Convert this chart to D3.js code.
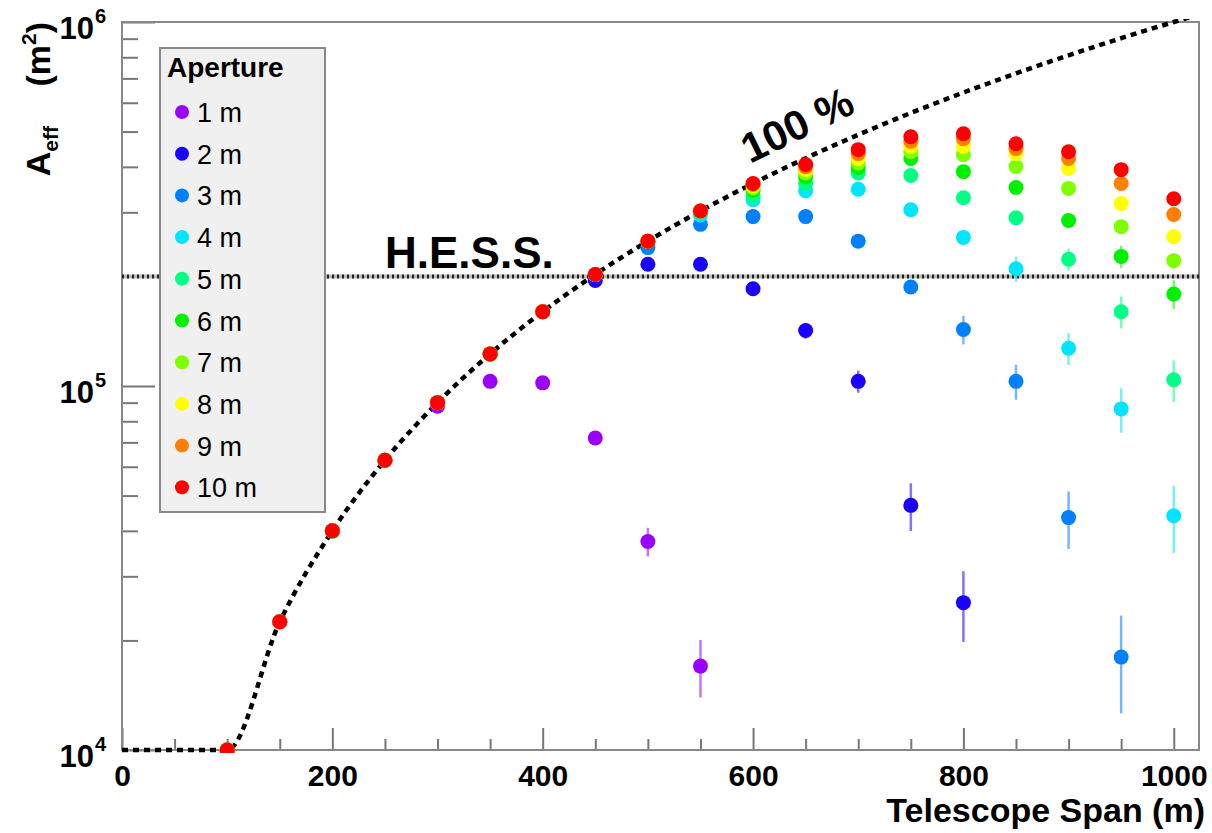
<!DOCTYPE html>
<html>
<head>
<meta charset="utf-8">
<script src="https://cdn.jsdelivr.net/npm/d3@7"></script>
<style>
  body { margin: 0; background: #fff; }
  text { font-family: "Liberation Sans", Arial, sans-serif; }
</style>
</head>
<body>
<div id="chart"></div>
<script>
// telescope span (m) for every point column
const spans = [100, 150, 200, 250, 300, 350, 400, 450, 500, 550, 600, 650, 700, 750, 800, 850, 900, 950, 1000];

const apertures = ['1 m', '2 m', '3 m', '4 m', '5 m', '6 m', '7 m', '8 m', '9 m', '10 m'];
const colors = ['#9900ff', '#1a00ff', '#0080ff', '#00e5ff', '#00ff85', '#00f000', '#80ff00', '#ffff00', '#ff8000', '#ff0000'];

// effective area (m^2) per aperture, null = no point
const a1  = [1e4, 2.25e4, 4e4, 6.25e4, 8.8e4, 1.03e5, 1.02e5, 7.2e4, 3.74e4, 1.7e4, null, null, null, null, null, null, null, null, null];
const a2  = [1e4, 2.25e4, 4e4, 6.25e4, 9e4, 1.225e5, 1.6e5, 1.95e5, 2.16e5, 2.16e5, 1.85e5, 1.42e5, 1.03e5, 4.7e4, 2.54e4, null, null, null, null];
const a3  = [1e4, 2.25e4, 4e4, 6.25e4, 9e4, 1.225e5, 1.6e5, 2.025e5, 2.4e5, 2.78e5, 2.92e5, 2.92e5, 2.5e5, 1.87e5, 1.43e5, 1.03e5, 4.35e4, 1.8e4, null];
const a4  = [1e4, 2.25e4, 4e4, 6.25e4, 9e4, 1.225e5, 1.6e5, 2.025e5, 2.5e5, 2.95e5, 3.25e5, 3.44e5, 3.47e5, 3.05e5, 2.56e5, 2.1e5, 1.27e5, 8.65e4, 4.4e4];
const a5  = [1e4, 2.25e4, 4e4, 6.25e4, 9e4, 1.225e5, 1.6e5, 2.025e5, 2.5e5, 3.0e5, 3.32e5, 3.6e5, 3.85e5, 3.79e5, 3.29e5, 2.9e5, 2.23e5, 1.6e5, 1.04e5];
const a6  = [1e4, 2.25e4, 4e4, 6.25e4, 9e4, 1.225e5, 1.6e5, 2.025e5, 2.5e5, 3.02e5, 3.45e5, 3.75e5, 3.98e5, 4.22e5, 3.88e5, 3.51e5, 2.85e5, 2.27e5, 1.79e5];
const a7  = [1e4, 2.25e4, 4e4, 6.25e4, 9e4, 1.225e5, 1.6e5, 2.025e5, 2.5e5, 3.025e5, 3.5e5, 3.85e5, 4.1e5, 4.4e5, 4.32e5, 4.01e5, 3.49e5, 2.74e5, 2.21e5];
const a8  = [1e4, 2.25e4, 4e4, 6.25e4, 9e4, 1.225e5, 1.6e5, 2.025e5, 2.5e5, 3.025e5, 3.55e5, 3.93e5, 4.22e5, 4.55e5, 4.55e5, 4.35e5, 3.96e5, 3.17e5, 2.57e5];
const a9  = [1e4, 2.25e4, 4e4, 6.25e4, 9e4, 1.225e5, 1.6e5, 2.025e5, 2.5e5, 3.025e5, 3.58e5, 4.0e5, 4.35e5, 4.7e5, 4.78e5, 4.49e5, 4.22e5, 3.6e5, 2.96e5];
const a10 = [1e4, 2.25e4, 4e4, 6.25e4, 9e4, 1.225e5, 1.6e5, 2.025e5, 2.5e5, 3.025e5, 3.6e5, 4.06e5, 4.46e5, 4.84e5, 4.93e5, 4.63e5, 4.4e5, 3.93e5, 3.27e5];

// relative errors
const e1  = [0, 0, 0, 0, 0, 0, 0.01, 0.03, 0.09, 0.18, 0, 0, 0, 0, 0, 0, 0, 0, 0];
const e2  = [0, 0, 0, 0, 0, 0, 0, 0.01, 0.02, 0.02, 0.03, 0.05, 0.07, 0.15, 0.22, 0, 0, 0, 0];
const e3  = [0, 0, 0, 0, 0, 0, 0, 0, 0.01, 0.01, 0.02, 0.02, 0.03, 0.04, 0.09, 0.11, 0.18, 0.30, 0];
const e4  = [0, 0, 0, 0, 0, 0, 0, 0, 0, 0.01, 0.01, 0.02, 0.02, 0.03, 0.05, 0.08, 0.10, 0.14, 0.21];
const e5  = [0, 0, 0, 0, 0, 0, 0, 0, 0, 0, 0.01, 0.01, 0.02, 0.02, 0.03, 0.04, 0.07, 0.10, 0.13];
const e6  = [0, 0, 0, 0, 0, 0, 0, 0, 0, 0, 0.01, 0.01, 0.01, 0.02, 0.02, 0.03, 0.04, 0.07, 0.09];
const e7  = [0, 0, 0, 0, 0, 0, 0, 0, 0, 0, 0, 0.01, 0.01, 0.01, 0.02, 0.02, 0.03, 0.04, 0.05];
const e8  = [0, 0, 0, 0, 0, 0, 0, 0, 0, 0, 0, 0.01, 0.01, 0.01, 0.01, 0.02, 0.02, 0.03, 0.04];
const e9  = [0, 0, 0, 0, 0, 0, 0, 0, 0, 0, 0, 0.01, 0.01, 0.01, 0.01, 0.02, 0.02, 0.03, 0.03];
const e10 = [0, 0, 0, 0, 0, 0, 0, 0, 0, 0, 0, 0.01, 0.01, 0.01, 0.01, 0.02, 0.02, 0.02, 0.03];

// "100 %" curve and the H.E.S.S. reference level
const fullSpan = [0, 50, 100, 150, 200, 250, 300, 350, 400, 450, 500, 550, 600, 650, 700, 750, 800, 850, 900, 950, 1000, 1030];
const fullArea = [1e4, 1e4, 1e4, 2.25e4, 4e4, 6.25e4, 9e4, 1.225e5, 1.6e5, 2.025e5, 2.5e5, 3.025e5, 3.6e5, 4.225e5, 4.9e5, 5.625e5, 6.4e5, 7.225e5, 8.1e5, 9.025e5, 1e6, 1.06e6];
const hessArea = 2e5;

const xMajor = [0, 200, 400, 600, 800, 1000];
const xMinor = d3.range(50, 1001, 50).filter(v => v % 200 !== 0);
const yMajor = [1e4, 1e5, 1e6];

const values = [a1, a2, a3, a4, a5, a6, a7, a8, a9, a10];
const errors = [e1, e2, e3, e4, e5, e6, e7, e8, e9, e10];

const width = 1212, height = 833;
const frame = { left: 122, right: 1199, top: 22, bottom: 750 };

const svg = d3.select('#chart').append('svg')
  .attr('width', width)
  .attr('height', height);

const x = d3.scaleLinear().domain([0, 1024]).range([frame.left, frame.right]);
const y = d3.scaleLog().domain([1e4, 1e6]).range([frame.bottom, frame.top]);

svg.append('clipPath').attr('id', 'clip')
  .append('rect')
  .attr('x', frame.left).attr('y', frame.top - 3)
  .attr('width', frame.right - frame.left).attr('height', frame.bottom - frame.top + 6);

const axisColor = '#777';

// x ticks (pointing up into the frame)
const gxMinor = svg.append('g')
  .attr('transform', `translate(0,${frame.bottom})`)
  .call(d3.axisBottom(x).tickValues(xMinor).tickSize(-11).tickFormat(''));
const gxMajor = svg.append('g')
  .attr('transform', `translate(0,${frame.bottom})`)
  .call(d3.axisBottom(x).tickValues(xMajor).tickSize(-22).tickPadding(15).tickFormat(d3.format('d')));
[gxMinor, gxMajor].forEach(g => {
  g.select('.domain').remove();
  g.selectAll('line').attr('stroke', axisColor).attr('stroke-width', 2);
});
gxMajor.selectAll('text')
  .style('font-size', '30px').style('font-weight', 'bold').attr('fill', '#000');

// y ticks
const yMinorVals = [];
[1e4, 1e5].forEach(d => { for (let k = 2; k <= 9; k++) yMinorVals.push(d * k); });
const gyMinor = svg.append('g')
  .attr('transform', `translate(${frame.left},0)`)
  .call(d3.axisLeft(y).tickValues(yMinorVals).tickSize(-16).tickFormat(''));
const gyMajor = svg.append('g')
  .attr('transform', `translate(${frame.left},0)`)
  .call(d3.axisLeft(y).tickValues(yMajor).tickSize(-33).tickFormat(''));
[gyMinor, gyMajor].forEach(g => {
  g.select('.domain').remove();
  g.selectAll('line').attr('stroke', axisColor).attr('stroke-width', 2);
});

// y labels as 10^n
yMajor.forEach(v => {
  svg.append('text')
    .attr('x', 94)
    .attr('y', y(v) + 17)
    .attr('text-anchor', 'end')
    .style('font-size', '31px')
    .style('font-weight', 'bold')
    .text('10');
  svg.append('text')
    .attr('x', 95)
    .attr('y', y(v) + 1)
    .style('font-size', '20px')
    .style('font-weight', 'bold')
    .text(Math.round(Math.log10(v)));
});

// frame
svg.append('rect')
  .attr('x', frame.left).attr('y', frame.top)
  .attr('width', frame.right - frame.left).attr('height', frame.bottom - frame.top)
  .attr('fill', 'none')
  .attr('stroke', '#888')
  .attr('stroke-width', 2);

// axis titles
svg.append('text')
  .attr('x', 1205).attr('y', 822)
  .attr('text-anchor', 'end')
  .style('font-size', '34px').style('font-weight', 'bold')
  .text('Telescope Span (m)');

const yTitle = svg.append('text')
  .attr('transform', 'translate(50,22) rotate(-90)')
  .attr('text-anchor', 'end')
  .style('font-size', '34px').style('font-weight', 'bold');
yTitle.append('tspan').text('A');
yTitle.append('tspan').attr('dy', 8).style('font-size', '21px').text('eff');
yTitle.append('tspan').attr('dy', -8).attr('dx', 30).text(' (m');
yTitle.append('tspan').attr('dy', -14).style('font-size', '21px').text('2');
yTitle.append('tspan').attr('dy', 14).text(')');

const plot = svg.append('g').attr('clip-path', 'url(#clip)');

// H.E.S.S. level
plot.append('line')
  .attr('x1', frame.left).attr('x2', frame.right)
  .attr('y1', y(hessArea)).attr('y2', y(hessArea))
  .attr('stroke', '#bbb').attr('stroke-width', 4);
plot.append('line')
  .attr('x1', frame.left).attr('x2', frame.right)
  .attr('y1', y(hessArea)).attr('y2', y(hessArea))
  .attr('stroke', '#222').attr('stroke-width', 4)
  .attr('stroke-dasharray', '2,3');

// 100 % curve
const fullLine = d3.line()
  .x((d, i) => x(fullSpan[i]))
  .y(d => y(d))
  .curve(d3.curveMonotoneX);
plot.append('path')
  .attr('d', fullLine(fullArea))
  .attr('fill', 'none')
  .attr('stroke', '#000')
  .attr('stroke-width', 4.5)
  .attr('stroke-dasharray', '6,5');

// error bars and markers, smallest aperture first
values.forEach((vals, s) => {
  const pts = spans.map((sp, i) => ({ sp, v: vals[i], e: errors[s][i] })).filter(d => d.v !== null);
  const g = plot.append('g');
  g.selectAll('line')
    .data(pts.filter(d => d.e > 0))
    .join('line')
    .attr('x1', d => x(d.sp)).attr('x2', d => x(d.sp))
    .attr('y1', d => y(d.v * (1 + d.e)))
    .attr('y2', d => y(Math.max(d.v * (1 - d.e), 1e4)))
    .attr('stroke', colors[s])
    .attr('stroke-opacity', 0.55)
    .attr('stroke-width', 2.5);
  g.selectAll('circle')
    .data(pts)
    .join('circle')
    .attr('cx', d => x(d.sp))
    .attr('cy', d => y(d.v))
    .attr('r', 7.5)
    .attr('fill', colors[s]);
});

// labels on the plot
svg.append('text')
  .attr('x', 385).attr('y', 268)
  .style('font-size', '44px').style('font-weight', 'bold')
  .text('H.E.S.S.');

svg.append('text')
  .attr('transform', 'translate(750,164) rotate(-26)')
  .style('font-size', '42px').style('font-weight', 'bold')
  .text('100 %');

// legend
const legend = svg.append('g');
legend.append('rect')
  .attr('x', 160).attr('y', 48)
  .attr('width', 165).attr('height', 464)
  .attr('fill', '#f0f0f0')
  .attr('stroke', '#888')
  .attr('stroke-width', 2);
legend.append('text')
  .attr('x', 167).attr('y', 77)
  .style('font-size', '28px').style('font-weight', 'bold')
  .text('Aperture');
apertures.forEach((name, i) => {
  const cy = 112 + i * 41.7;
  legend.append('circle')
    .attr('cx', 182).attr('cy', cy).attr('r', 7)
    .attr('fill', colors[i]);
  legend.append('text')
    .attr('x', 197).attr('y', cy + 10)
    .style('font-size', '27px')
    .text(name);
});
</script>
</body>
</html>
